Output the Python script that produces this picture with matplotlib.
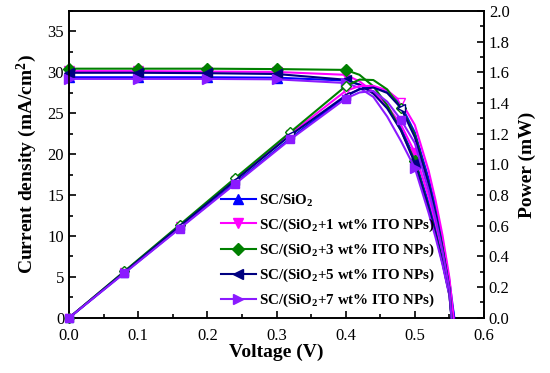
import matplotlib
matplotlib.use("Agg")
import matplotlib.pyplot as plt
from matplotlib.ticker import MultipleLocator

plt.rcParams['font.family'] = ['Liberation Serif', 'DejaVu Serif']
plt.rcParams['mathtext.fontset'] = 'custom'
plt.rcParams['mathtext.rm'] = 'Liberation Serif:bold'
plt.rcParams['mathtext.bf'] = 'Liberation Serif:bold'
plt.rcParams['mathtext.it'] = 'Liberation Serif:bold'

labels = ['SC/SiO$_2$',
          'SC/(SiO$_2$+1 wt% ITO NPs)',
          'SC/(SiO$_2$+3 wt% ITO NPs)',
          'SC/(SiO$_2$+5 wt% ITO NPs)',
          'SC/(SiO$_2$+7 wt% ITO NPs)']
colors = ['#0000FF', '#FF00FF', '#008000', '#000080', '#8B1AFF']
markers_j = ['^', 'v', 'D', '<', '>']
markers_p = ['^', 'v', 'D', '<', 's']

# Current density (mA/cm^2) vs voltage (V)
v_j_base = [0, 0.1, 0.2, 0.3, 0.4, 0.42, 0.44, 0.46, 0.48, 0.50, 0.52, 0.53, 0.54, 0.55]
voc = [0.557, 0.556, 0.553, 0.553, 0.553]
j_sio2 = [29.4, 29.4, 29.4, 29.35, 29.0, 28.5, 27.5, 25.8, 23.2, 19.4, 14.0, 10.9, 7.5, 3.5, 0]
j_1wt = [30.15, 30.15, 30.1, 30.05, 29.7, 28.9, 27.6, 25.9, 23.6, 20.2, 14.8, 11.6, 8.0, 3.8, 0]
j_3wt = [30.45, 30.45, 30.45, 30.4, 30.3, 29.7, 28.3, 26.0, 22.9, 19.2, 13.5, 10.3, 6.8, 2.8, 0]
j_5wt = [29.95, 29.95, 29.9, 29.8, 29.1, 28.5, 27.4, 25.6, 22.9, 18.9, 13.4, 10.2, 6.7, 2.8, 0]
j_7wt = [29.2, 29.2, 29.2, 29.15, 28.7, 28.1, 27.0, 24.6, 21.6, 18.3, 12.8, 9.8, 6.5, 2.7, 0]

# Power (mW) vs voltage (V)
v_p_base = [0, 0.08, 0.16, 0.24, 0.32, 0.40, 0.42, 0.44, 0.46, 0.48, 0.50, 0.52, 0.53, 0.54, 0.55]
p_sio2 = [0, 0.293, 0.586, 0.878, 1.169, 1.444, 1.490, 1.506, 1.478, 1.386, 1.208, 0.906, 0.719, 0.504, 0.240, 0]
p_1wt = [0, 0.300, 0.600, 0.900, 1.199, 1.479, 1.511, 1.512, 1.483, 1.410, 1.257, 0.958, 0.765, 0.538, 0.260, 0]
p_3wt = [0, 0.303, 0.606, 0.910, 1.210, 1.510, 1.553, 1.550, 1.489, 1.368, 1.195, 0.874, 0.680, 0.457, 0.190, 0]
p_5wt = [0, 0.298, 0.597, 0.895, 1.190, 1.449, 1.490, 1.501, 1.466, 1.368, 1.177, 0.868, 0.673, 0.450, 0.192, 0]
p_7wt = [0, 0.291, 0.582, 0.872, 1.163, 1.429, 1.469, 1.479, 1.409, 1.291, 1.139, 0.829, 0.647, 0.437, 0.185, 0]

j_all = [j_sio2, j_1wt, j_3wt, j_5wt, j_7wt]
p_all = [p_sio2, p_1wt, p_3wt, p_5wt, p_7wt]

fig = plt.figure(figsize=(5.5, 3.73), dpi=100)
ax = fig.add_axes([0.1255, 0.148, 0.7545, 0.8225])
ax2 = ax.twinx()

j_marks = [0, 1, 2, 3, 4, 9]
p_marks = [0, 1, 2, 3, 4, 5, 9]

handles = []
for i in range(5):
    vj = v_j_base + [voc[i]]
    ms = 6 if markers_j[i] == 'D' else 7
    h, = ax.plot(vj, j_all[i], color=colors[i], lw=1.5, marker=markers_j[i],
                 ms=ms, markevery=j_marks, clip_on=False, zorder=3,
                 label=labels[i])
    handles.append(h)
    vp = v_p_base + [voc[i]]
    face = colors[i] if markers_p[i] == 's' else 'white'
    msp = 5.5 if markers_p[i] in ('D', 's') else 6
    ax2.plot(vp, p_all[i], color=colors[i], lw=1.5, marker=markers_p[i],
             ms=msp, mfc=face, mec=colors[i], mew=1.0, markevery=p_marks,
             clip_on=False, zorder=3)

ax.set_xlim(0, 0.6)
ax.set_ylim(0, 37.5)
ax2.set_ylim(0, 2.0)

ax.xaxis.set_major_locator(MultipleLocator(0.1))
ax.xaxis.set_minor_locator(MultipleLocator(0.05))
ax.yaxis.set_major_locator(MultipleLocator(5))
ax.yaxis.set_minor_locator(MultipleLocator(2.5))
ax2.yaxis.set_major_locator(MultipleLocator(0.2))
ax2.yaxis.set_minor_locator(MultipleLocator(0.1))

ax.xaxis.set_major_formatter(plt.FuncFormatter(lambda x, p: f'{x:.1f}'))
ax.yaxis.set_major_formatter(plt.FuncFormatter(lambda x, p: f'{x:.0f}'))
ax2.yaxis.set_major_formatter(plt.FuncFormatter(lambda x, p: f'{x:.1f}'))

for a in (ax, ax2):
    a.tick_params(which='both', direction='in', labelsize=12, width=1.2)
    a.tick_params(which='major', length=5)
    a.tick_params(which='minor', length=3)
    for s in a.spines.values():
        s.set_linewidth(1.2)
ax.tick_params(axis='x', which='both', top=False)
ax.tick_params(axis='y', which='both', right=False)
ax.tick_params(axis='x', pad=7)

ax.set_xlabel('Voltage (V)', fontsize=14, fontweight='bold', labelpad=0)
ax.set_ylabel('Current density (mA/cm$^2$)', fontsize=14, fontweight='bold', labelpad=6)
ax2.set_ylabel('Power (mW)', fontsize=14, fontweight='bold', labelpad=6)

leg = ax.legend(handles=handles, loc='lower left', bbox_to_anchor=(0.352, 0.008),
                frameon=False, prop={'family': 'Liberation Serif', 'weight': 'bold', 'size': 10.8},
                handlelength=2.3, handletextpad=0.2, labelspacing=0.52, borderaxespad=0)

fig.savefig('out.png', dpi=100)
